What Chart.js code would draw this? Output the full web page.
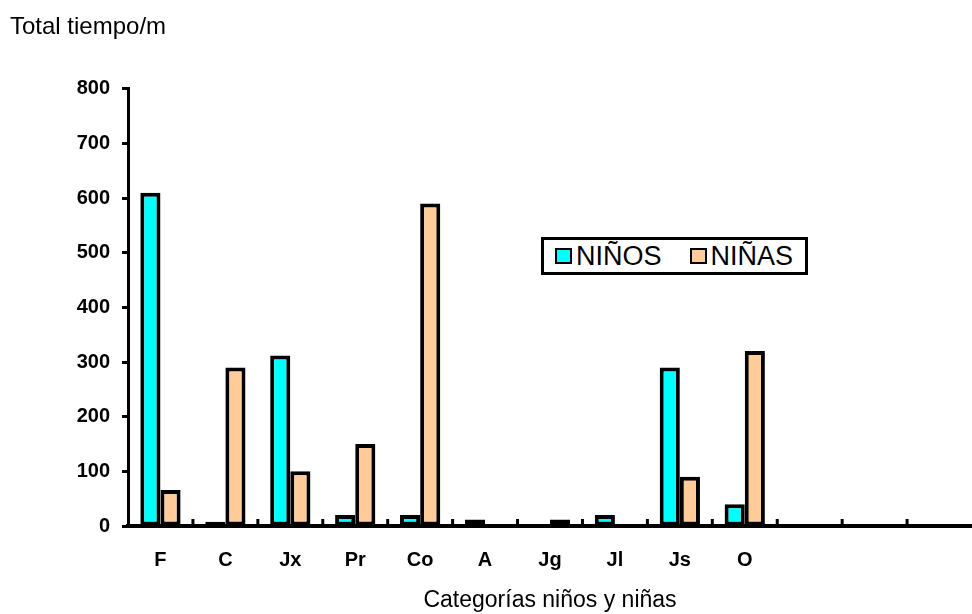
<!DOCTYPE html>
<html>
<head>
<meta charset="utf-8">
<script src="https://cdn.jsdelivr.net/npm/chart.js@4.4.0/dist/chart.umd.min.js"></script>
<style>
  html, body { margin: 0; padding: 0; background: #fff; overflow: hidden; }
  #wrap { position: relative; width: 972px; height: 614px; }
  #legend {
    position: absolute; left: 541px; top: 237px; width: 261px; height: 32px;
    border: 3px solid #000; background: #fff;
    font-family: "Liberation Sans", Arial, sans-serif; font-size: 27px; color: #000;
    display: flex; align-items: center; line-height: 1;
  }
  #legend .item { display: flex; align-items: center; margin-left: 11px; }
  #legend .item + .item { margin-left: 28px; }
  #legend .sw { width: 13px; height: 12px; border: 2px solid #000; margin-right: 4px; }
</style>
</head>
<body>
<div id="wrap">
  <canvas id="chart" width="972" height="614"></canvas>
  <div id="legend"></div>
</div>
<script>
const categories = ['F', 'C', 'Jx', 'Pr', 'Co', 'A', 'Jg', 'Jl', 'Js', 'O', '', '', ''];
const ninos = [610, 8, 312, 20, 20, 12, 0, 20, 290, 40, null, null, null];
const ninas = [66, 290, 100, 150, 590, 0, 12, 0, 90, 320, null, null, null];
const yTicks = [0, 100, 200, 300, 400, 500, 600, 700, 800];

const font = 'Liberation Sans, Arial, sans-serif';

// small tick marks between categories, pointing up from the axis
const innerTicks = {
  id: 'innerTicks',
  afterDatasetsDraw(chart) {
    const x = chart.scales.x;
    const ctx = chart.ctx;
    const bottom = chart.chartArea.bottom;
    ctx.save();
    ctx.strokeStyle = '#000';
    ctx.lineWidth = 3;
    for (let i = 1; i < categories.length; i++) {
      const px = (x.getPixelForValue(i - 1) + x.getPixelForValue(i)) / 2;
      ctx.beginPath();
      ctx.moveTo(px, bottom);
      ctx.lineTo(px, bottom - 7);
      ctx.stroke();
    }
    ctx.restore();
  }
};

const chart = new Chart(document.getElementById('chart'), {
  type: 'bar',
  data: {
    labels: categories,
    datasets: [
      {
        label: 'NIÑOS',
        data: ninos,
        backgroundColor: '#00FFFF',
        borderColor: '#000',
        borderWidth: 4,
        borderSkipped: false
      },
      {
        label: 'NIÑAS',
        data: ninas,
        backgroundColor: '#FFCC99',
        borderColor: '#000',
        borderWidth: 4,
        borderSkipped: false
      }
    ]
  },
  options: {
    responsive: false,
    animation: false,
    datasets: { bar: { categoryPercentage: 0.62, barPercentage: 1.0 } },
    layout: { padding: { left: 10, right: 0, top: 0, bottom: 0 } },
    plugins: {
      legend: { display: false },
      tooltip: { enabled: false },
      title: {
        display: true,
        text: 'Total tiempo/m',
        align: 'start',
        color: '#000',
        font: { family: font, size: 24, weight: 'normal' },
        padding: { top: 13, bottom: 47 }
      }
    },
    scales: {
      x: {
        afterFit(scale) {
          scale.height = 88;
        },
        grid: { display: false, drawTicks: false },
        border: { display: true, color: '#000', width: 4 },
        ticks: {
          color: '#000',
          padding: 22,
          font: { family: font, size: 20, weight: 'bold' }
        },
        title: {
          display: true,
          text: 'Categorías niños y niñas',
          color: '#000',
          font: { family: font, size: 23, weight: 'normal' },
          padding: { top: 0, bottom: 0 }
        }
      },
      y: {
        min: 0,
        max: 800,
        afterBuildTicks(scale) {
          scale.ticks = yTicks.map(v => ({ value: v }));
        },
        afterFit(scale) {
          scale.width = 118;
        },
        grid: {
          drawOnChartArea: false,
          drawTicks: true,
          tickLength: 6,
          tickWidth: 3,
          tickColor: '#000'
        },
        border: { display: true, color: '#000', width: 3 },
        ticks: {
          color: '#000',
          padding: 12,
          font: { family: font, size: 20, weight: 'bold' }
        }
      }
    }
  },
  plugins: [innerTicks]
});

// legend built from the datasets
const legend = document.getElementById('legend');
chart.data.datasets.forEach(ds => {
  const item = document.createElement('div');
  item.className = 'item';
  const sw = document.createElement('span');
  sw.className = 'sw';
  sw.style.background = ds.backgroundColor;
  const txt = document.createElement('span');
  txt.textContent = ds.label;
  item.appendChild(sw);
  item.appendChild(txt);
  legend.appendChild(item);
});
</script>
</body>
</html>
